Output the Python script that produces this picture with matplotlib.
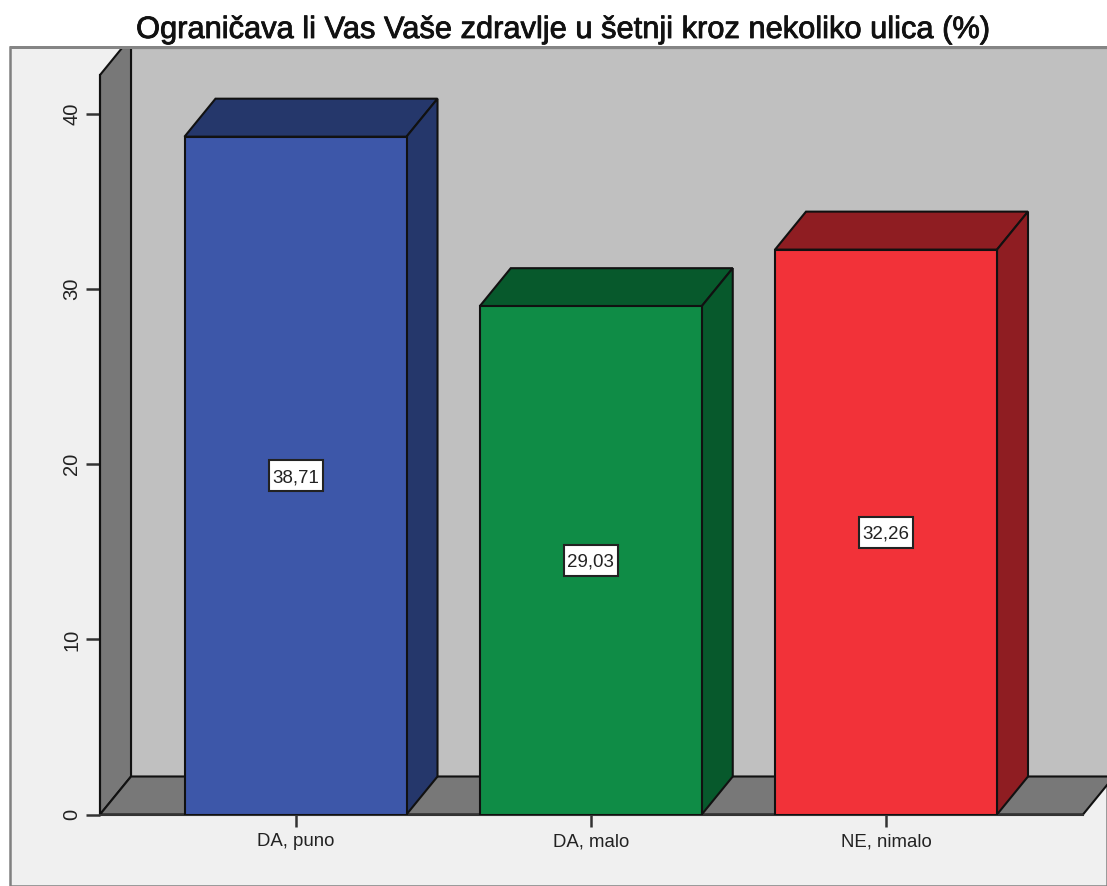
import matplotlib
matplotlib.use("Agg")
import matplotlib.pyplot as plt
import matplotlib.patheffects as pe
from matplotlib.patches import Polygon, Rectangle

plt.rcParams['font.family'] = ['Liberation Sans', 'DejaVu Sans']

categories = ['DA, puno', 'DA, malo', 'NE, nimalo']
values = [38.71, 29.03, 32.26]
value_labels = ['38,71', '29,03', '32,26']
y_ticks = [0, 10, 20, 30, 40]
front_colors = ['#3d57a9', '#0f8c46', '#f23239']
side_colors = ['#25376b', '#07592c', '#8f1d22']
title = 'Ograničava li Vas Vaše zdravlje u šetnji kroz nekoliko ulica (%)'

W, H = 1107, 886
fig = plt.figure(figsize=(W / 100, H / 100), dpi=100, facecolor='white')

# outer panel
fig.add_artist(Rectangle((10 / W, 0), (W - 10) / W, (H - 47) / H, transform=fig.transFigure,
                         facecolor='#f0f0f0', edgecolor='#808080', linewidth=1.8, zorder=-1))

# axes: y=0 sits at pixel 814.5, 40 at pixel 114
ax = fig.add_axes([100 / W, (H - 814.5) / H, 983 / W, (814.5 - 75) / H])
ax.patch.set_visible(False)
ax.set_xlim((100 - 295.5) / 295.25, (1083 - 295.5) / 295.25)
ax.set_ylim(0, (814.5 - 75) / 17.51)

dx = 31 / 295.25
dy = 38 / 17.51
x0, x1 = ax.get_xlim()
y1 = ax.get_ylim()[1]
top = (814.5 - 48) / 17.51
edge = '#111111'

# back wall, left wall, floor
ax.add_patch(Polygon([(x0 + dx, dy), (x1 + 2, dy), (x1 + 2, top), (x0 + dx, top)], closed=True,
                     facecolor='#c0c0c0', edgecolor=edge, lw=1.5, clip_on=False, zorder=1))
ax.add_patch(Polygon([(x0, 0), (x0 + dx, dy), (x0 + dx, top), (x0 + 22 / 295.25, top), (x0, y1)], closed=True,
                     facecolor='#787878', edgecolor=edge, lw=1.5, clip_on=False, zorder=1.1))
ax.add_patch(Polygon([(x0, 0), (x0 + dx, dy), (x1 + dx, dy), (x1, 0)], closed=True,
                     facecolor='#787878', edgecolor=edge, lw=1.5, clip_on=False, zorder=1.2))
# grey frame line over the top of the walls
fig.add_artist(Rectangle((10 / W, (H - 49) / H), (W - 10) / W, 3 / H, transform=fig.transFigure,
                         facecolor='#858585', edgecolor='none', zorder=5))

xs = range(len(values))
width = 222 / 295.25
box_w = 54 / 295.25
box_h = 31 / 17.51
ax.bar(xs, values, width=width, color=front_colors, edgecolor=edge, linewidth=1.5, zorder=3)
for i, v in enumerate(values):
    l, r = i - width / 2, i + width / 2
    ax.add_patch(Polygon([(l, v), (l + dx, v + dy), (r + dx, v + dy), (r, v)], closed=True,
                         facecolor=side_colors[i], edgecolor=edge, lw=1.5, zorder=2.5, clip_on=False))
    ax.add_patch(Polygon([(r, 0), (r + dx, dy), (r + dx, v + dy), (r, v)], closed=True,
                         facecolor=side_colors[i], edgecolor=edge, lw=1.5, zorder=2.5, clip_on=False))
    ax.add_patch(Rectangle((i - box_w / 2, v / 2 - box_h / 2), box_w, box_h, facecolor='white',
                           edgecolor='#222222', lw=1.5, zorder=4))
    ax.text(i, v / 2, value_labels[i], ha='center', va='center_baseline', fontsize=13.5, color='#222222', zorder=5)

for s in ['top', 'right']:
    ax.spines[s].set_visible(False)
ax.spines['left'].set_linewidth(1.5)
ax.spines['left'].set_color(edge)
ax.spines['left'].set_zorder(2)
ax.spines['bottom'].set_linewidth(1.5)
ax.spines['bottom'].set_color('#333333')

ax.set_yticks(y_ticks)
ax.set_yticklabels([str(t) for t in y_ticks], rotation=90, va='center', fontsize=14.5, color='#222222')
ax.set_xticks(list(xs))
ax.set_xticklabels(categories, fontsize=13.4, color='#222222')
ax.tick_params(axis='y', length=10, width=1.8, color='#333333', pad=3.5)
ax.tick_params(axis='x', length=8.6, width=1.8, color='#333333', pad=5)

fig.text(564.5 / W, (H - 38) / H, title, ha='center', va='baseline', fontsize=22.2, color='#111111',
         path_effects=[pe.withStroke(linewidth=0.6, foreground='#111111')])

fig.savefig('out.png', dpi=100)
